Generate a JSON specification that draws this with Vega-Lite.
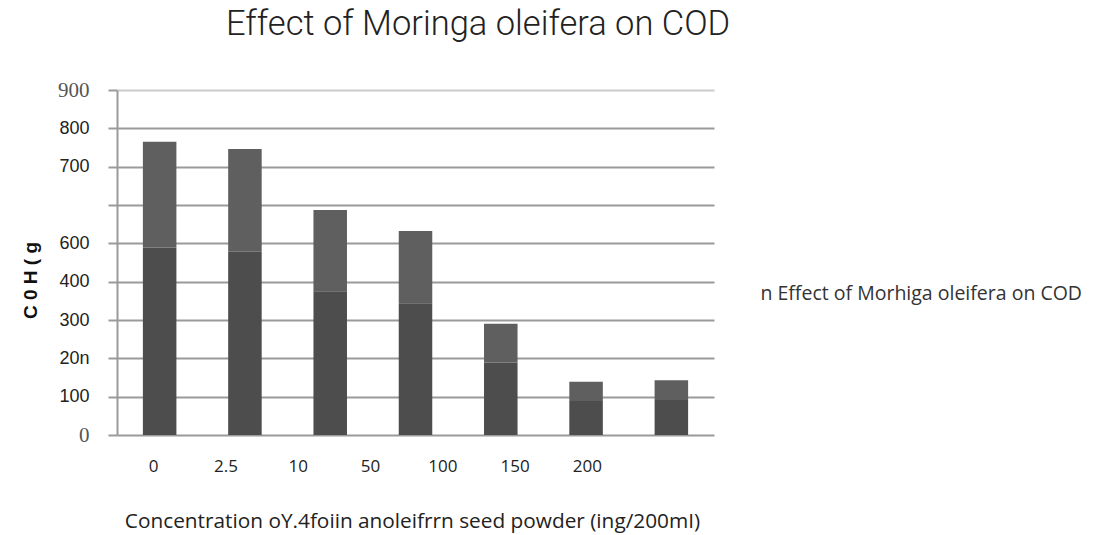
{
  "$schema": "https://vega.github.io/schema/vega-lite/v6.json",
  "autosize": {"type": "none"},
  "width": 597,
  "height": 345,
  "padding": {"left": 117, "top": 90, "right": 382, "bottom": 100},
  "background": "white",
  "title": {
    "text": "Effect of Moringa oleifera on COD",
    "anchor": "start",
    "frame": "group",
    "dx": 109,
    "offset": 10,
    "baseline": "alphabetic",
    "font": "Roboto",
    "fontSize": 34.5,
    "fontWeight": 300,
    "color": "#222222"
  },
  "data": {
    "values": [
      {"conc": "0", "lower": 489, "total": 765},
      {"conc": "2.5", "lower": 478, "total": 746},
      {"conc": "10", "lower": 375, "total": 587},
      {"conc": "50", "lower": 344, "total": 532},
      {"conc": "100", "lower": 189, "total": 290},
      {"conc": "150", "lower": 89, "total": 139},
      {"conc": "200", "lower": 91, "total": 143}
    ]
  },
  "encoding": {
    "y": {
      "type": "quantitative",
      "scale": {"domain": [0, 900], "nice": false, "zero": true},
      "axis": {
        "values": [0, 100, 200, 300, 400, 500, 600, 700, 800, 900],
        "labelExpr": "datum.value==900?'900':datum.value==800?'800':datum.value==700?'700':datum.value==500?'600':datum.value==400?'400':datum.value==300?'300':datum.value==200?'20n':datum.value==100?'100':datum.value==0?'0':''",
        "tickSize": 9,
        "tickWidth": 2,
        "tickColor": "#9a9a9a",
        "domainColor": "#9a9a9a",
        "domainWidth": 2,
        "grid": true,
        "gridWidth": 2,
        "gridColor": {"condition": {"test": "datum.value == 900", "value": "#cccccc"}, "value": "#9a9a9a"},
        "labelPadding": 19,
        "labelFont": {"condition": {"test": "datum.value == 900 || datum.value == 0", "value": "Liberation Serif"}, "value": "Liberation Sans"},
        "labelFontSize": {"condition": {"test": "datum.value == 900 || datum.value == 0", "value": 21}, "value": 18},
        "labelColor": {"condition": {"test": "datum.value == 900 || datum.value == 0", "value": "#555555"}, "value": "#222222"},
        "title": "C 0 H ( g",
        "titleFont": "Liberation Sans",
        "titleFontSize": 19,
        "titleFontWeight": "bold",
        "titleColor": "#111111",
        "titleX": -87,
        "titleY": 190,
        "titleAlign": "center",
        "titleBaseline": "middle"
      }
    }
  },
  "layer": [
    {
      "encoding": {
        "x": {
          "field": "conc",
          "type": "nominal",
          "sort": null,
          "scale": {"type": "band", "paddingInner": 0.607, "paddingOuter": 0.3035},
          "axis": null
        }
      },
      "layer": [
        {
          "mark": {"type": "bar", "color": "#4d4d4d"},
          "encoding": {
            "y": {"field": "lower", "type": "quantitative"}
          }
        },
        {
          "mark": {"type": "bar"},
          "encoding": {
            "y": {"field": "lower", "type": "quantitative"},
            "y2": {"field": "total"},
            "color": {
              "datum": "n Effect of Morhiga oleifera on COD",
              "type": "nominal",
              "scale": {"range": ["#5f5f5f"]},
              "legend": {
                "orient": "none",
                "legendX": 624,
                "legendY": 194,
                "title": null,
                "symbolOpacity": 0,
                "symbolSize": 0,
                "symbolStrokeWidth": 0,
                "labelOffset": 0,
                "padding": 0,
                "labelFont": "Open Sans",
                "labelFontSize": 19.5,
                "labelColor": "#333333",
                "labelLimit": 0
              }
            }
          }
        }
      ]
    },
    {
      "mark": {"type": "point", "opacity": 0},
      "encoding": {
        "x": {
          "field": "conc",
          "type": "nominal",
          "sort": null,
          "scale": {"type": "point", "padding": 0.5, "range": [0, 506]},
          "axis": {
            "orient": "bottom",
            "domain": false,
            "ticks": false,
            "labelAngle": 0,
            "labelPadding": 23,
            "labelFont": "Open Sans",
            "labelFontSize": 17,
            "labelColor": "#222222",
            "title": "Concentration oY.4foiin anoleifrrn seed powder (ing/200mI)",
            "titleFont": "Open Sans",
            "titleFontSize": 20.8,
            "titleFontWeight": "normal",
            "titleColor": "#222222",
            "titleX": 295,
            "titleY": 92,
            "titleAlign": "center",
            "titleBaseline": "alphabetic"
          }
        }
      }
    }
  ],
  "resolve": {"scale": {"x": "independent"}},
  "config": {"view": {"stroke": null}}
}
